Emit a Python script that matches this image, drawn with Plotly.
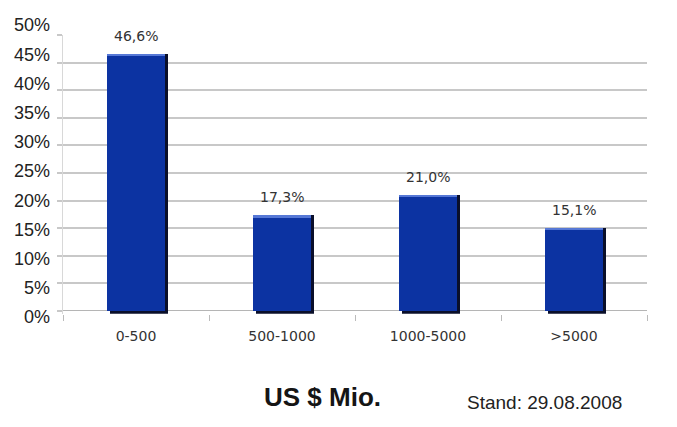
import plotly.graph_objects as go

categories = ["0-500", "500-1000", "1000-5000", ">5000"]
values = [46.6, 17.3, 21.0, 15.1]
value_labels = ["46,6%", "17,3%", "21,0%", "15,1%"]
y_ticks = [0, 5, 10, 15, 20, 25, 30, 35, 40, 45, 50]
y_tick_labels = [f"{v}%" for v in y_ticks]
x_title = "US $ Mio."
stand_text = "Stand: 29.08.2008"

W, H = 677, 427
px_per_unit = (310.7 - 35) / 50.0
y_lo = -3.0 / px_per_unit
plot_bottom = 310.7 + 3.0
xd = [63 / W, 647 / W]
yd = [(H - plot_bottom) / H, (H - 35) / H]

bar_w = 0.40
shadow_dx = 3.0 / 146.0
fig = go.Figure()
# shadow
fig.add_trace(go.Bar(
    x=categories, y=[v - y_lo for v in values], base=[y_lo] * len(values),
    width=bar_w, offset=-bar_w / 2 + shadow_dx,
    marker=dict(color="#0a0f2a", line=dict(width=0)),
    hoverinfo="skip", showlegend=False,
))
# main bar
fig.add_trace(go.Bar(
    x=categories, y=values, width=bar_w, offset=-bar_w / 2,
    marker=dict(color="#0c33a2", line=dict(width=0)),
    showlegend=False,
))
# top highlight
hl = 2.2 / px_per_unit
fig.add_trace(go.Bar(
    x=categories, y=[hl] * len(values), base=[v - hl for v in values],
    width=bar_w, offset=-bar_w / 2,
    marker=dict(color="#5678d6", line=dict(width=0)),
    hoverinfo="skip", showlegend=False,
))
# invisible trace for label axis
fig.add_trace(go.Scatter(
    x=[categories[0]], y=[0], yaxis="y2", mode="markers",
    marker=dict(opacity=0), hoverinfo="skip", showlegend=False,
))

for c, v, t in zip(categories, values, value_labels):
    fig.add_annotation(x=c, y=v, text=t, showarrow=False, yanchor="bottom",
                       yshift=8, font=dict(family="DejaVu Sans", size=14, color="#333333"))

fig.add_annotation(x=322 / W, y=(H - 397) / H, xref="paper", yref="paper",
                   xanchor="center", yanchor="middle",
                   text=f"<b>{x_title}</b>", showarrow=False,
                   font=dict(family="Liberation Sans", size=26, color="#151515"))
fig.add_annotation(x=544 / W, y=(H - 402) / H, xref="paper", yref="paper",
                   xanchor="center", yanchor="middle",
                   text=stand_text, showarrow=False,
                   font=dict(family="Liberation Sans", size=19, color="#222222"))

fig.update_layout(
    template="none",
    width=W, height=H, margin=dict(l=0, r=0, t=0, b=0, pad=0),
    paper_bgcolor="white", plot_bgcolor="rgba(0,0,0,0)",
    barmode="overlay", bargap=0,
    xaxis=dict(domain=xd, range=[-0.5, 3.5], showgrid=False, zeroline=False,
               showline=False, ticks="outside", tickson="boundaries", ticklen=6,
               tickcolor="#bbbbbb", tickwidth=1, automargin=False,
               ticklabelstandoff=12,
               tickfont=dict(family="DejaVu Sans", size=14, color="#333333"),
               fixedrange=True),
    yaxis=dict(domain=yd, range=[y_lo, 50.05], tickvals=y_ticks, showticklabels=False,
               showgrid=True, gridcolor="#c8c8c8", gridwidth=2,
               zeroline=True, zerolinecolor="#b5b5b5", zerolinewidth=1,
               showline=True, linecolor="#d8d8d8", linewidth=1,
               ticks="outside", ticklen=5, tickcolor="#c8c8c8", tickwidth=2,
               automargin=False, fixedrange=True),
    yaxis2=dict(domain=[(H - 317) / H, (H - 25) / H], range=[0, 50], anchor="free",
                position=50 / W, side="left", tickvals=y_ticks, ticktext=y_tick_labels,
                showgrid=False, zeroline=False, showline=False, ticks="",
                automargin=False,
                tickfont=dict(family="Liberation Sans", size=18, color="#222222"),
                fixedrange=True),
)

fig.write_html("out.html")
